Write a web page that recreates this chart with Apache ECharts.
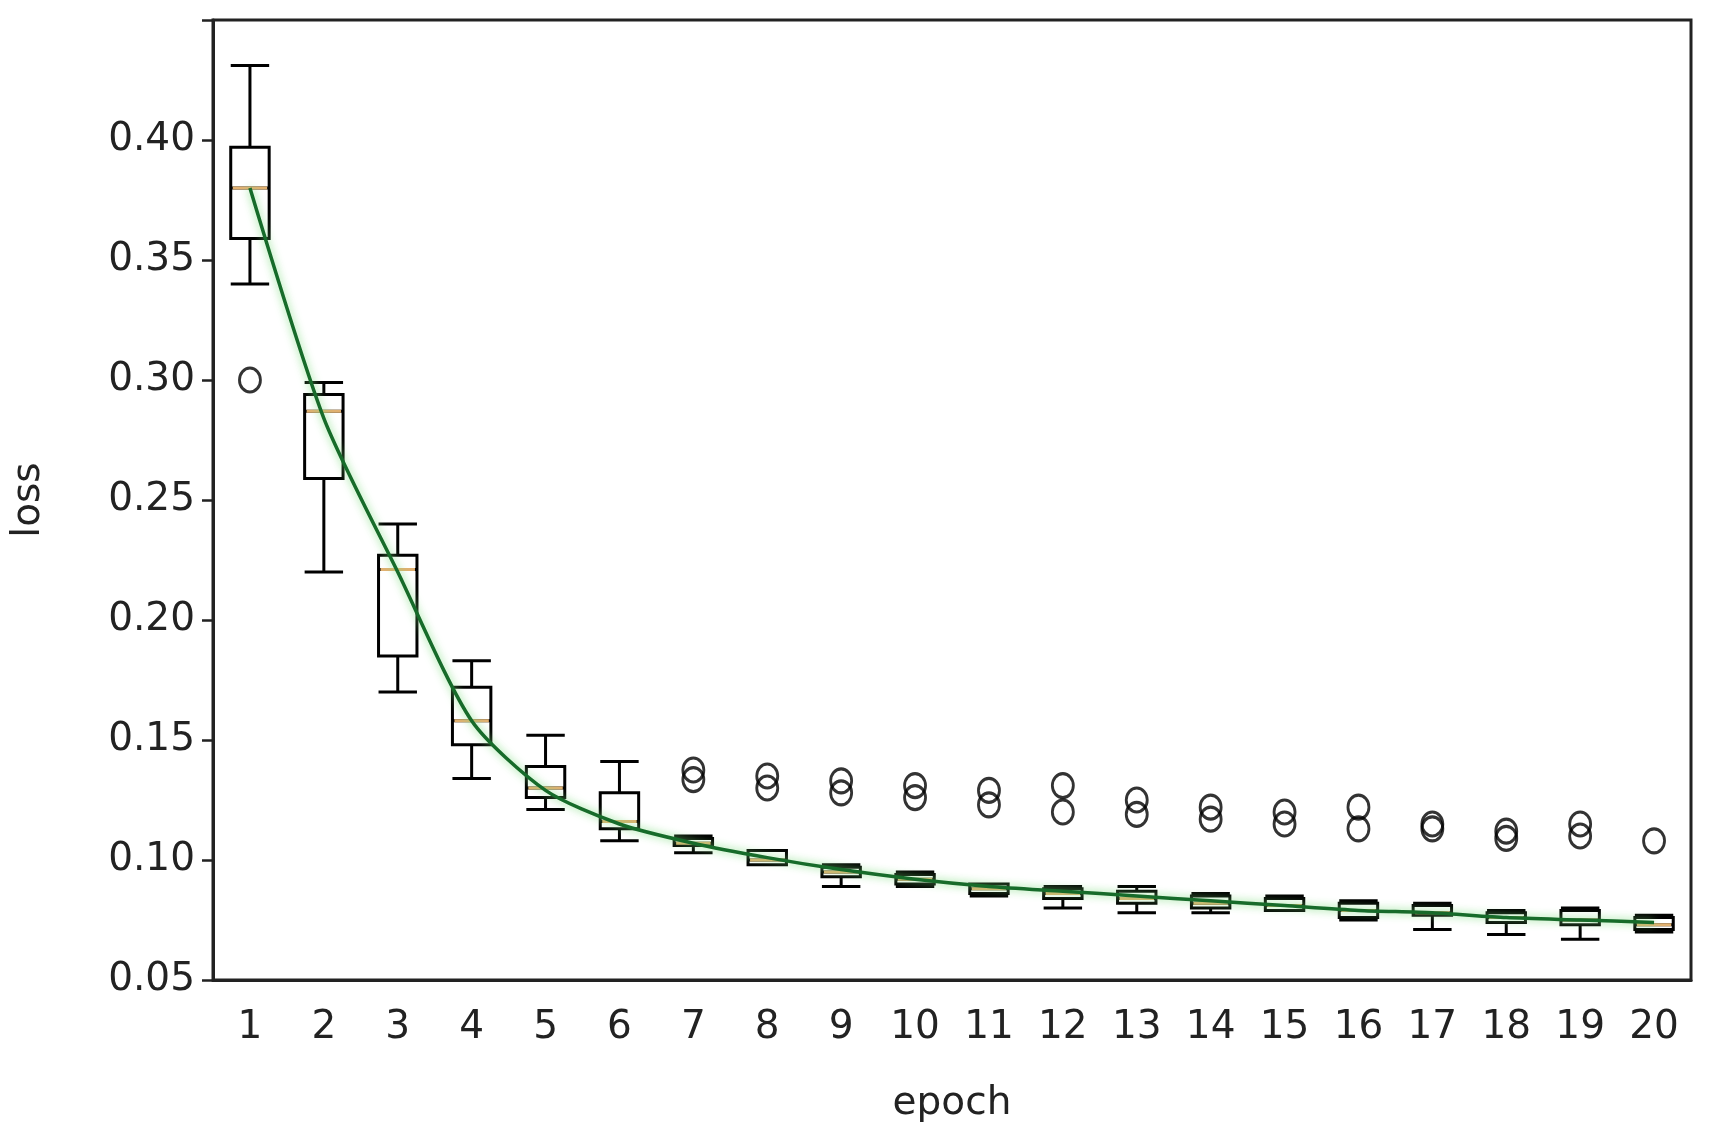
<!DOCTYPE html>
<html><head><meta charset="utf-8">
<script src="https://cdn.jsdelivr.net/npm/echarts@6/dist/echarts.min.js"></script>
<style>html,body{margin:0;padding:0;background:#fff}#c{width:1711px;height:1139px}</style>
</head><body><div id="c"></div>
<script>
const epochs = ['1','2','3','4','5','6','7','8','9','10','11','12','13','14','15','16','17','18','19','20'];
const whiskLow = [0.340,0.220,0.170,0.134,0.121,0.108,0.103,0.098,0.089,0.089,0.085,0.080,0.078,0.078,0.079,0.075,0.071,0.069,0.067,0.070];
const q1 =       [0.359,0.259,0.185,0.148,0.126,0.113,0.106,0.098,0.093,0.090,0.086,0.084,0.082,0.080,0.079,0.076,0.077,0.074,0.073,0.071];
const median =   [0.380,0.287,0.221,0.158,0.130,0.116,0.107,0.100,0.095,0.092,0.088,0.086,0.084,0.082,0.081,0.079,0.078,0.076,0.075,0.073];
const q3 =       [0.397,0.294,0.227,0.172,0.139,0.128,0.109,0.104,0.097,0.094,0.090,0.088,0.087,0.085,0.084,0.082,0.081,0.078,0.079,0.076];
const whiskHigh =[0.431,0.299,0.240,0.183,0.152,0.141,0.110,0.104,0.098,0.095,0.090,0.089,0.089,0.086,0.085,0.083,0.082,0.079,0.080,0.077];
const meanLoss = [0.380,0.284,0.220,0.158,0.129,0.115,0.107,0.101,0.096,0.092,0.089,0.087,0.085,0.083,0.081,0.079,0.078,0.076,0.075,0.074];
const outliers = [[0,0.300],[6,0.1375],[6,0.1335],[7,0.135],[7,0.130],[8,0.133],[8,0.128],[9,0.131],[9,0.126],[10,0.129],[10,0.123],[11,0.131],[11,0.120],[12,0.125],[12,0.119],[13,0.122],[13,0.117],[14,0.120],[14,0.115],[15,0.122],[15,0.113],[16,0.115],[16,0.113],[17,0.112],[17,0.109],[18,0.115],[18,0.110],[19,0.108]];

const boxData = epochs.map((e,i)=>[whiskLow[i],q1[i],median[i],q3[i],whiskHigh[i]]);
const medData = epochs.map((e,i)=>[i,median[i]]);
const font = 'DejaVu Sans';
const chart = echarts.init(document.getElementById('c'));
chart.setOption({
  animation:false,
  grid:{left:213,right:20,top:20,bottom:159,containLabel:false,show:true,borderColor:'#222',borderWidth:3,backgroundColor:'transparent'},
  xAxis:{type:'category',data:epochs,boundaryGap:true,name:'epoch',nameLocation:'middle',nameGap:104,
    nameTextStyle:{fontFamily:font,fontSize:39,color:'#222'},
    axisLine:{lineStyle:{color:'#222',width:3}},axisTick:{alignWithLabel:true,length:11,lineStyle:{color:'#222',width:2.5}},
    axisLabel:{fontFamily:font,fontSize:39,color:'#222',margin:28},splitLine:{show:false}},
  yAxis:{type:'value',min:0.05,max:0.45,interval:0.05,name:'loss',nameLocation:'middle',nameGap:165,
    nameTextStyle:{fontFamily:font,fontSize:39,color:'#222'},
    axisLine:{show:true,lineStyle:{color:'#222',width:3}},axisTick:{show:true,length:11,lineStyle:{color:'#222',width:2.5}},
    axisLabel:{fontFamily:font,fontSize:39,color:'#222',margin:18,formatter:v=>v>0.44?'':v.toFixed(2)},
    splitLine:{show:false}},
  series:[
    {type:'boxplot',data:boxData,boxWidth:['52%','52%'],itemStyle:{color:'#fff',borderColor:'#000',borderWidth:3},z:2},
    {type:'custom',data:medData,z:3,renderItem:(params,api)=>{
      const p=api.coord([api.value(0),api.value(1)]);const w=api.size([1,0])[0]*0.52;
      return {type:'line',shape:{x1:p[0]-w/2+2,y1:p[1],x2:p[0]+w/2-2,y2:p[1]},style:{stroke:'#e0b070',lineWidth:3}};}},
    {type:'line',data:meanLoss,smooth:0.25,symbol:'none',z:4,lineStyle:{color:'#176b2a',width:3.5,shadowColor:'rgba(120,220,120,0.9)',shadowBlur:8}},
    {type:'scatter',data:outliers,symbol:'circle',symbolSize:[21,24],z:5,itemStyle:{color:'rgba(255,255,255,0)',borderColor:'#000',borderWidth:3}}
  ]
});
</script></body></html>
